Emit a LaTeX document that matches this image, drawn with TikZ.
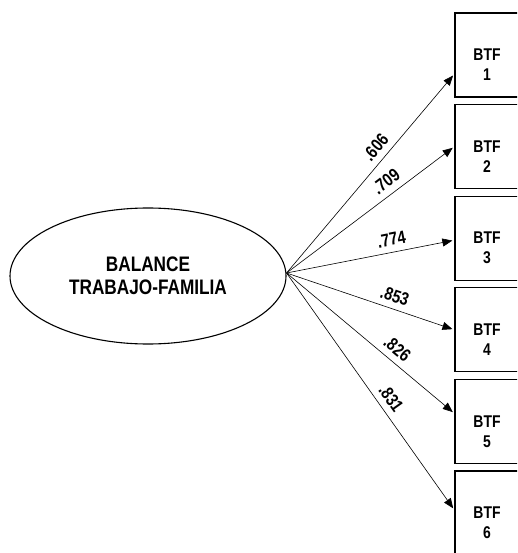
\documentclass[tikz,border=0pt]{standalone}
\usepackage{fontspec}
\setmainfont{Liberation Sans}[FakeStretch=0.82]
\usetikzlibrary{arrows.meta,shapes.geometric}

\begin{document}
\begin{tikzpicture}[x=1pt,y=-1pt,
            latente/.style={ellipse, draw, line width=1.1pt, minimum width=276pt, minimum height=136pt, align=center, font=\fontsize{21}{23}\selectfont\bfseries},
            item/.style={rectangle, draw, line width=1.3pt, minimum width=64pt, minimum height=84pt, inner sep=0pt},
            etiq/.style={align=center, font=\fontsize{17}{20}\selectfont\bfseries},
            carga/.style={sloped, above=3pt, font=\fontsize{18}{18}\selectfont\bfseries},
            flecha/.style={-{Triangle[length=10pt,width=8pt]}, line width=0.6pt, shorten >=2pt}]
            \useasboundingbox (0,0) rectangle (517,553);
            \clip (0,0) rectangle (517,553);
            \node[latente] (bal) at (148,276) {BALANCE\\TRABAJO-FAMILIA};
            \foreach \i in {1,...,6}{
                \node[item] (btf\i) at (487,{55+91.6*(\i-1)}) {};
                \node[etiq] (t\i) at ([yshift=-10pt]btf\i.center) {BTF\\\i};
            }
            
            \draw[flecha] ([yshift=3pt]bal.east) -- ([yshift=-19pt]btf1.west) node[carga, pos=.59] {.606};
            \draw[flecha] ([yshift=3pt]bal.east) -- (btf2.west) node[carga, pos=.64] {.709};
            \draw[flecha] ([yshift=3pt]bal.east) -- ([yshift=-2pt]btf3.west) node[carga, pos=.64] {.774};
            \draw[flecha] ([yshift=3pt]bal.east) -- (btf4.west) node[carga, pos=.62] {.853};
            \draw[flecha] ([yshift=3pt]bal.east) -- ([yshift=8pt]btf5.west) node[carga, pos=.61] {.826};
            \draw[flecha] ([yshift=3pt]bal.east) -- ([yshift=3pt]btf6.west) node[carga, pos=.56] {.831};
\end{tikzpicture}
\end{document}
